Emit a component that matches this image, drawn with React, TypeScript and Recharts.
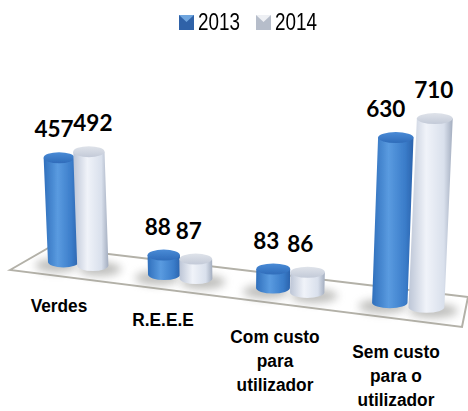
import { Bar, BarChart, Customized, LabelList, Legend, XAxis, YAxis } from 'recharts';

const categories = ['Verdes', 'R.E.E.E', 'Com custo para utilizador', 'Sem custo para o utilizador'];
const values2013 = [457, 88, 83, 630];
const values2014 = [492, 87, 86, 710];
const seriesNames = ['2013', '2014'];

const data = categories.map((name, i) => ({
  name,
  y2013: values2013[i],
  y2014: values2014[i],
}));

// wrapped axis text, and where each label sits relative to its tick
const tickLines = [['Verdes'], ['R.E.E.E'], ['Com custo', 'para', 'utilizador'], ['Sem custo', 'para o', 'utilizador']];
const tickShift = [
  { dx: -19, dy: 37 },
  { dx: -25, dy: 51 },
  { dx: -23, dy: 68 },
  { dx: -12, dy: 83 },
];

const BLUE = { id: 'blue', cap: 'capBlue', labelDx: [-5, -6, -7, -10] };
const GREY = { id: 'grey', cap: 'capGrey', labelDx: [4, -7, -7.5, -1] };

// the reference is a tilted 3D chart, so flat bars get pushed through a small perspective
function project(x: number, y: number, width: number, height: number) {
  const raw = x + width / 2;
  const t = (raw - 78) / 330;
  const cx = raw - 36 * t * (1 - t);
  const w = width * (0.94 + 0.14 * t);
  const h = height * (0.78 + 0.11 * t) + 9;
  const bottom = y + height + (cx - 60) * 0.125;
  const top = bottom - h;
  const lean = h * (cx - 235) * 0.00022;
  return { cx, w, h, top, bottom, lean };
}

function Cylinder(props: any) {
  const { x, y, width, height, style } = props;
  const p = project(x, y, width, height);
  const rx = p.w / 2;
  const ry = Math.min(5.5, p.h / 4);
  const tx = p.cx + p.lean;
  const shadowX = style === BLUE ? p.cx - 7 : p.cx + 7;
  return (
    <g>
      <ellipse cx={shadowX} cy={p.bottom - 2} rx={p.w * 0.68} ry={7} fill="#8a8a86" opacity={0.55} filter="url(#soft)" />
      <g filter="url(#edge)">
        <path
          d={`M${tx - rx},${p.top + ry} L${p.cx - rx},${p.bottom - ry} A${rx},${ry} 0 0 0 ${p.cx + rx},${p.bottom - ry} L${tx + rx},${p.top + ry} Z`}
          fill={`url(#${style.id})`}
        />
        <ellipse cx={tx} cy={p.top + ry} rx={rx} ry={ry} fill={`url(#${style.cap})`} />
      </g>
    </g>
  );
}

function ValueLabel(props: any) {
  const { x, y, width, height, value, index, style } = props;
  const p = project(x, y, width, height);
  return (
    <text
      x={p.cx + p.lean + style.labelDx[index]}
      y={p.top - 23}
      dy="0.36em"
      textAnchor="middle"
      fontFamily="Lato"
      fontWeight={700}
      fontSize={22.5}
      fill="#000"
    >
      {value}
    </text>
  );
}

function CategoryTick(props: any) {
  const { x, y, index } = props;
  const shift = tickShift[index];
  // the reference's labels are Arial squeezed sideways
  return (
    <text
      transform={`translate(${x + shift.dx},${y + shift.dy}) scale(0.91,1)`}
      textAnchor="middle"
      fontFamily="Liberation Sans"
      fontWeight={700}
      fontSize={19}
      fill="#000"
    >
      {tickLines[index].map((line, i) => (
        <tspan key={line} x={0} dy={i === 0 ? 0 : 24}>
          {line}
        </tspan>
      ))}
    </text>
  );
}

function Floor() {
  return (
    <g>
      <defs>
        <linearGradient id="blue" x1="0" y1="0" x2="1" y2="0">
          <stop offset="0" stopColor="#2f6fbc" />
          <stop offset="0.4" stopColor="#5a9be0" />
          <stop offset="0.8" stopColor="#3a7cc9" />
          <stop offset="1" stopColor="#2b63ad" />
        </linearGradient>
        <linearGradient id="grey" x1="0" y1="0" x2="1" y2="0">
          <stop offset="0" stopColor="#bcc5d6" />
          <stop offset="0.4" stopColor="#f0f3f9" />
          <stop offset="0.8" stopColor="#d9e0ec" />
          <stop offset="1" stopColor="#a3adbf" />
        </linearGradient>
        <linearGradient id="capBlue" x1="0" y1="0" x2="0" y2="1">
          <stop offset="0" stopColor="#4a8bd6" />
          <stop offset="1" stopColor="#2f6cba" />
        </linearGradient>
        <linearGradient id="capGrey" x1="0" y1="0" x2="0" y2="1">
          <stop offset="0" stopColor="#dfe3ea" />
          <stop offset="1" stopColor="#c3cad8" />
        </linearGradient>
        <filter id="soft" x="-50%" y="-100%" width="200%" height="300%">
          <feGaussianBlur stdDeviation="4" />
        </filter>
        <filter id="edge" x="-10%" y="-10%" width="120%" height="120%">
          <feGaussianBlur stdDeviation="0.5" />
        </filter>
      </defs>
      <polygon points="10,270 50,247 468,297 462,327" fill="#fff" stroke="#b3b1a8" strokeWidth={2} />
    </g>
  );
}

function LegendRow() {
  const items = [
    { name: seriesNames[0], a: '#6fa5de', b: '#2f62a8' },
    { name: seriesNames[1], a: '#eef0f4', b: '#b6bdca' },
  ];
  return (
    <div style={{ display: 'flex', alignItems: 'center', fontFamily: 'Liberation Sans', fontSize: 23, color: '#000', lineHeight: '22px' }}>
      {items.map((item) => (
        <div key={item.name} style={{ display: 'flex', alignItems: 'center', width: 77 }}>
          <svg width={15} height={15} style={{ marginRight: 4 }}>
            <rect width={15} height={15} fill={item.b} />
            <polygon points="0,0 15,0 7.5,7" fill={item.a} />
          </svg>
          <span style={{ display: 'inline-block', transform: 'scaleX(0.82)', transformOrigin: 'left center' }}>{item.name}</span>
        </div>
      ))}
    </div>
  );
}

export default function App() {
  return (
    <div style={{ position: 'absolute', left: 0, top: 0 }}>
      {/* Legend takes 22px off the bottom of the plot, so the axis is 22px shorter */}
      <BarChart width={468} height={411} data={data} barSize={33} barGap={0} margin={{ top: 27, right: 5, bottom: 0, left: 23 }}>
        <Customized component={Floor} />
        <XAxis dataKey="name" height={122} axisLine={false} tickLine={false} interval={0} tick={<CategoryTick />} />
        <YAxis hide domain={[0, 800]} />
        <Legend
          content={<LegendRow />}
          wrapperStyle={{ position: 'absolute', left: 179, top: 11, width: 170, bottom: 'auto' }}
        />
        <Bar dataKey="y2013" name={seriesNames[0]} isAnimationActive={false} shape={<Cylinder style={BLUE} />}>
          <LabelList dataKey="y2013" content={<ValueLabel style={BLUE} />} />
        </Bar>
        <Bar dataKey="y2014" name={seriesNames[1]} isAnimationActive={false} shape={<Cylinder style={GREY} />}>
          <LabelList dataKey="y2014" content={<ValueLabel style={GREY} />} />
        </Bar>
      </BarChart>
    </div>
  );
}
